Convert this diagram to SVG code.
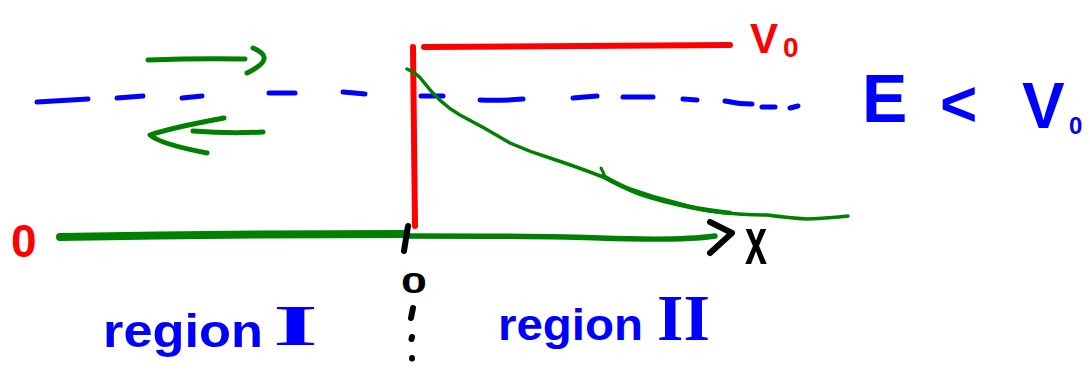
<svg xmlns="http://www.w3.org/2000/svg" width="1090" height="375" viewBox="0 0 1090 375">
<style>
.red{stroke:#ff0000;fill:none;stroke-width:6;stroke-linecap:round;stroke-linejoin:round}
.blue{stroke:#0000ff;fill:none;stroke-width:5;stroke-linecap:round}
.green{stroke:#008000;fill:none;stroke-width:5;stroke-linecap:round;stroke-linejoin:round}
.black{stroke:#000;fill:none;stroke-width:6;stroke-linecap:round;stroke-linejoin:round}
.t{font-family:"Liberation Sans",Arial,sans-serif;font-weight:bold}
.s{font-family:"Liberation Serif","Times New Roman",serif;font-weight:bold}
</style>
<rect width="1090" height="375" fill="#fff"/>
<g id="energy-level">
<path class="blue" d="M37,102 L88,99 M117,98 L143,96 M182,98 L202,96 M269,93 L295,93 M343,92 Q355,93 365,94 M421,96 L443,96 M480,100 Q500,101 523,99 M573,98 L597,96 M623,97 L653,97 M683,99 L697,100 M725,101 Q738,104 752,104 M762,107 L775,107 M790,108 L798,106"/>
</g>
<g id="potential-step">
<path class="red" d="M413,47 L415,226"/>
<path class="red" d="M424,47 L730,45"/>
</g>
<g id="wave-arrows">
<path class="green" d="M148,60 Q200,58 245,59"/>
<path class="green" d="M253,48 Q278,58 247,73"/>
<path class="green" d="M224,118 Q170,128 150,135 Q160,144 207,153"/>
<path class="green" d="M193,131 Q230,134 263,132"/>
</g>
<g id="decay-curve">
<path class="green" style="stroke-width:3.5" d="M407,69 Q418,74 422,80 Q440,104 460,115 Q485,128 510,143 Q530,152 550,158 Q580,168 603,177 Q620,186 633,190 Q655,198 677,203 Q700,210 717,212 Q745,215 767,215 Q790,218 807,219 Q830,218 848,216"/>
<path class="green" style="stroke-width:4.5" d="M603,176 Q620,186 640,194 Q660,201 690,207 Q705,210 730,213"/>
<path class="green" style="stroke-width:3" d="M601,168 L604,174"/>
</g>
<g id="x-axis">
<path class="green" style="stroke-width:8" d="M60,237 Q230,234 405,234"/>
<path class="green" style="stroke-width:5.5" d="M405,236 Q560,236 600,238 Q680,241 715,236"/>
<path class="black" d="M710,222 L732,233 L710,253"/>
<path class="black" d="M408,226 L404,251"/>
</g>
<g id="labels">
<text class="t" x="750" y="53" font-size="42" fill="#ff0000">V<tspan x="783" y="57" font-size="28">0</tspan></text>
<text class="t" x="11" y="257" font-size="46" fill="#ff0000">0</text>
<text class="t" x="401" y="293" font-size="30" textLength="26" lengthAdjust="spacingAndGlyphs" fill="#000">0</text>
<text class="t" x="745" y="264" font-size="66" textLength="22" lengthAdjust="spacingAndGlyphs" fill="#000">x</text>
<text class="t" fill="#0000ff"><tspan x="862" y="122" font-size="68">E</tspan><tspan x="940" y="126" font-size="64">&lt;</tspan><tspan x="1022" y="128" font-size="64">V</tspan></text>
<text class="t" x="1069" y="134" font-size="24" fill="#0000ff">0</text>
<text class="t" x="103" y="347" font-size="46" textLength="160" lengthAdjust="spacingAndGlyphs" fill="#0000ff">region</text>
<text class="s" x="273" y="345" font-size="56" textLength="45" lengthAdjust="spacingAndGlyphs" fill="#0000ff">I</text>
<text class="t" x="498" y="340" font-size="44" textLength="145" lengthAdjust="spacingAndGlyphs" fill="#0000ff">region</text>
<text class="s" x="657" y="340" font-size="66" textLength="53" lengthAdjust="spacingAndGlyphs" fill="#0000ff">II</text>
<path class="black" d="M413,308 L411,318 M412,337 L411.5,339 M412,358 L412,358.5"/>
</g>
</svg>
